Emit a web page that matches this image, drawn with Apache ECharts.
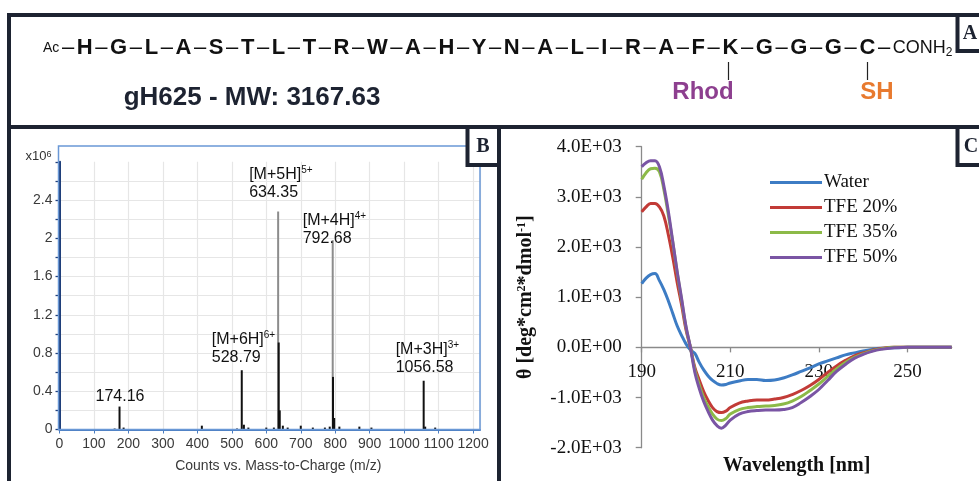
<!DOCTYPE html>
<html>
<head>
<meta charset="utf-8" />
<title>gH625 peptide</title>
<script src="https://cdn.jsdelivr.net/npm/echarts@6.0.0/dist/echarts.min.js"></script>
<style>
  html, body { margin: 0; padding: 0; background: #fff; }
  #chart { width: 979px; height: 481px; }
</style>
</head>
<body>
<div id="chart"></div>
<script>
// ---- panel A: sequence
const residues = ['H','G','L','A','S','T','L','T','R','W','A','H','Y','N','A','L','I','R','A','F','K','G','G','G','C'];

// ---- panel B: mass spectrum (counts x10^6)
const msMz =     [160, 174.16, 186, 413, 515, 528.79, 535, 548, 600, 622, 634.35, 636, 639, 648, 662, 700, 735, 770, 784, 792.68, 793.5, 797, 812, 870, 905, 1056.58, 1061, 1090];
const msCounts = [0.01, 0.24, 0.02, 0.04, 0.01, 0.62, 0.05, 0.02, 0.02, 0.02, 2.28, 0.91, 0.20, 0.04, 0.02, 0.04, 0.02, 0.02, 0.03, 1.98, 0.55, 0.12, 0.03, 0.03, 0.02, 0.51, 0.03, 0.02];
const peakMz =      [174.16, 528.79, 634.35, 792.68, 1056.58];
const peakIons =    ['', '[M+6H]', '[M+5H]', '[M+4H]', '[M+3H]'];
const peakCharges = ['', '6+', '5+', '4+', '3+'];

// ---- panel C: CD spectra
const wavelength = [190,191,192,193,194,195,196,197,198,199,200,201,202,203,204,205,206,207,208,209,210,212,214,216,218,220,222,224,226,228,230,232,234,236,238,240,242,244,247,250,255,260];
const water = [1270,1380,1450,1470,1330,1150,930,680,430,240,70,-50,-120,-300,-450,-570,-660,-720,-750,-740,-710,-670,-640,-640,-660,-650,-610,-550,-480,-410,-330,-270,-210,-150,-110,-70,-40,-20,-10,0,0,0];
const tfe20 = [2700,2800,2870,2870,2800,2620,2250,1800,1300,850,350,0,-400,-650,-880,-1060,-1200,-1280,-1300,-1270,-1200,-1110,-1070,-1050,-1050,-1030,-1000,-940,-860,-760,-640,-500,-370,-260,-170,-110,-60,-20,0,0,0,0];
const tfe35 = [3350,3480,3560,3570,3500,3150,2650,2100,1500,950,400,0,-450,-750,-1000,-1180,-1330,-1430,-1460,-1420,-1330,-1240,-1200,-1180,-1170,-1160,-1130,-1070,-980,-860,-730,-580,-430,-300,-200,-130,-70,-30,0,0,0,0];
const tfe50 = [3600,3680,3720,3720,3600,3220,2720,2120,1520,980,420,0,-500,-820,-1080,-1280,-1450,-1560,-1610,-1550,-1450,-1330,-1280,-1260,-1250,-1250,-1240,-1200,-1100,-980,-840,-660,-480,-340,-220,-140,-80,-40,-10,0,0,0];
const cdNames = ['Water', 'TFE 20%', 'TFE 35%', 'TFE 50%'];
const cdColors = ['#3d7cc4', '#c23b37', '#8cba48', '#7a55a4'];
const cdTicks = [190, 210, 230, 250];

// label placement for the annotated peaks (px, relative to the bar top)
const peakLabelPos = [[-23, -19], [-29, -40], [-28, -46], [-29, -29], [-27, -40]];

const chart = echarts.init(document.getElementById('chart'));

const sansFont = 'Liberation Sans, Arial, sans-serif';
const serifFont = 'Liberation Serif, Times New Roman, serif';
const ink = '#1d2331';

function excelSci(v) {
  if (v === 0) return '0.0E+00';
  const e = Math.floor(Math.log10(Math.abs(v)));
  const m = v / Math.pow(10, e);
  return m.toFixed(1) + 'E' + (e >= 0 ? '+' : '-') + String(Math.abs(e)).padStart(2, '0');
}

const msData = msMz.map((mz, i) => {
  const item = { value: [mz, msCounts[i]] };
  if (msCounts[i] > 1.5) item.itemStyle = { color: '#8c8c8c' };
  const li = peakMz.indexOf(mz);
  if (li >= 0) {
    const num = '{num|' + mz.toFixed(2) + '}';
    item.label = {
      show: true,
      position: peakLabelPos[li],
      align: 'left',
      verticalAlign: 'top',
      formatter: peakIons[li] ? '{ion|' + peakIons[li] + '}{sup|' + peakCharges[li] + '}\n' + num : num
    };
  }
  return item;
});

const cdSeries = [water, tfe20, tfe35, tfe50].map((vals, k) => ({
  name: cdNames[k],
  type: 'line',
  xAxisIndex: 1,
  yAxisIndex: 1,
  smooth: 0.4,
  symbol: 'none',
  lineStyle: { width: 3, color: cdColors[k] },
  itemStyle: { color: cdColors[k] },
  data: wavelength.map((w, i) => [w, vals[i]])
}));

const seqText = '{ac|Ac}' + residues.map(r => '{d|–}{b|' + r + '}').join('') + '{d|–}{e|CONH}{sub|2}';

const boxStyle = { fill: 'none', stroke: ink, lineWidth: 4 };
const labelBox = { fill: '#fff', stroke: ink, lineWidth: 4 };

// grid C geometry, the wavelength axis sits on the zero line
const cdTop = 146.7, cdBottom = 33.3, cdMin = -2000, cdMax = 4000;
const cdHeight = 481 - cdTop - cdBottom;
const zeroOffset = -cdHeight * (0 - cdMin) / (cdMax - cdMin);

const option = {
  backgroundColor: '#fff',
  animation: false,
  grid: [
    { left: 59.5, right: 499, top: 161.8, bottom: 51.5, outerBoundsMode: 'none', containLabel: false },
    { left: 641.7, right: 27.3, top: cdTop, bottom: cdBottom, outerBoundsMode: 'none', containLabel: false }
  ],
  legend: {
    data: cdNames,
    orient: 'vertical',
    left: 765,
    top: 167,
    icon: 'rect',
    itemWidth: 52,
    itemHeight: 3,
    itemGap: 4,
    textStyle: { fontFamily: serifFont, fontSize: 19, color: '#111', lineHeight: 21, padding: [0, 0, 0, -3] }
  },
  xAxis: [
    {
      gridIndex: 0, type: 'value', min: 0, max: 1220, interval: 100,
      name: 'Counts vs. Mass-to-Charge (m/z)', nameLocation: 'middle', nameGap: 30,
      nameTextStyle: { fontFamily: sansFont, fontSize: 14, color: '#3a3a3a', padding: [0, 0, 0, 17] },
      axisLine: { lineStyle: { color: '#4a7cc0', width: 2 } },
      axisTick: { show: true, length: 4, lineStyle: { color: '#4a7cc0' } },
      axisLabel: { showMaxLabel: false, fontFamily: sansFont, fontSize: 14, color: '#3a3a3a', margin: 8, formatter: v => String(v) },
      splitLine: { show: true, lineStyle: { color: '#e6e6e6', width: 1.2 } }
    },
    {
      gridIndex: 1, type: 'value', min: 190, max: 260, position: 'bottom', offset: zeroOffset,
      name: 'Wavelength [nm]', nameLocation: 'middle', nameGap: 108,
      nameTextStyle: { fontFamily: serifFont, fontSize: 20, fontWeight: 'bold', color: '#111' },
      axisLine: { onZero: false, lineStyle: { color: '#8a8a8a', width: 1.3 } },
      axisTick: { show: true, length: 5, customValues: cdTicks, lineStyle: { color: '#8a8a8a', width: 1.3 } },
      axisLabel: { customValues: cdTicks, fontFamily: serifFont, fontSize: 19, color: '#111', margin: 15 },
      splitLine: { show: false }
    }
  ],
  yAxis: [
    {
      gridIndex: 0, type: 'value', min: 0, max: 2.8, interval: 0.2,
      name: 'x10{s|6}', nameLocation: 'end', nameGap: 5,
      nameTextStyle: {
        fontFamily: sansFont, fontSize: 13, color: '#333', align: 'right', verticalAlign: 'middle',
        padding: [0, 8, 0, 0],
        rich: { s: { fontFamily: sansFont, fontSize: 9, color: '#333', verticalAlign: 'top', lineHeight: 9 } }
      },
      axisLine: { show: true, lineStyle: { color: '#1f3f7a', width: 2 } },
      axisTick: { show: true, length: 4, lineStyle: { color: '#1f3f7a', width: 1.3 } },
      axisLabel: {
        fontFamily: sansFont, fontSize: 14, color: '#3a3a3a', margin: 7,
        formatter: v => {
          const t = Math.round(v * 10);
          return (t % 4 === 0 && t <= 24) ? String(+v.toFixed(1)) : '';
        }
      },
      splitLine: {
        show: true,
        lineStyle: {
          width: 1.2,
          color: ['#e6e6e6', '#e6e6e6', '#e6e6e6', '#e6e6e6', '#e6e6e6', '#e6e6e6', '#e6e6e6', '#e6e6e6',
                  '#e6e6e6', '#e6e6e6', '#e6e6e6', '#e6e6e6', '#e6e6e6', '#e6e6e6', 'rgba(0,0,0,0)']
        }
      }
    },
    {
      gridIndex: 1, type: 'value', min: cdMin, max: cdMax, interval: 1000,
      name: 'θ [deg*cm{s|2}*dmol{s|-1}]', nameLocation: 'middle', nameGap: 106,
      nameTextStyle: {
        fontFamily: serifFont, fontSize: 20, fontWeight: 'bold', color: '#111',
        rich: { s: { fontFamily: serifFont, fontSize: 12, fontWeight: 'bold', color: '#111', verticalAlign: 'top', lineHeight: 12 } }
      },
      axisLine: { show: true, onZero: false, lineStyle: { color: '#8a8a8a', width: 1.3 } },
      axisTick: { show: true, length: 6, lineStyle: { color: '#8a8a8a', width: 1.3 } },
      axisLabel: { fontFamily: serifFont, fontSize: 19, color: '#111', margin: 20, formatter: excelSci },
      splitLine: { show: false }
    }
  ],
  series: [
    {
      name: 'Counts',
      type: 'bar',
      xAxisIndex: 0,
      yAxisIndex: 0,
      barWidth: 2,
      itemStyle: { color: '#111' },
      label: {
        fontFamily: sansFont, color: '#111',
        rich: {
          ion: { fontFamily: sansFont, fontSize: 16, color: '#111', lineHeight: 18 },
          sup: { fontFamily: sansFont, fontSize: 10, color: '#111', verticalAlign: 'top', lineHeight: 10 },
          num: { fontFamily: sansFont, fontSize: 16, color: '#111', lineHeight: 18 }
        }
      },
      data: msData
    },
    ...cdSeries
  ],
  graphic: [
    // panel frames
    { type: 'rect', z: 100, shape: { x: 9, y: 15, width: 990, height: 112 }, style: boxStyle },
    { type: 'rect', z: 100, shape: { x: 9, y: 127, width: 490, height: 380 }, style: boxStyle },
    { type: 'rect', z: 100, shape: { x: 499, y: 127, width: 500, height: 380 }, style: boxStyle },
    // spectrum frame
    { type: 'rect', z: 50, shape: { x: 58.5, y: 146, width: 421.5, height: 283.5 }, style: { fill: 'none', stroke: '#6a98d6', lineWidth: 1.5 } },
    // panel letters
    { type: 'rect', z: 101, shape: { x: 957.5, y: 15, width: 40, height: 36 }, style: labelBox },
    { type: 'text', z: 102, style: { x: 970, y: 34, text: 'A', font: 'bold 20px ' + serifFont, fill: ink, align: 'center', verticalAlign: 'middle' } },
    { type: 'rect', z: 101, shape: { x: 467.5, y: 127, width: 31.5, height: 38 }, style: labelBox },
    { type: 'text', z: 102, style: { x: 483, y: 147, text: 'B', font: 'bold 20px ' + serifFont, fill: ink, align: 'center', verticalAlign: 'middle' } },
    { type: 'rect', z: 101, shape: { x: 957.5, y: 127, width: 40, height: 38 }, style: labelBox },
    { type: 'text', z: 102, style: { x: 971, y: 147, text: 'C', font: 'bold 20px ' + serifFont, fill: ink, align: 'center', verticalAlign: 'middle' } },
    // panel A texts
    {
      type: 'text', z: 102,
      style: {
        x: 43, y: 48, text: seqText, align: 'left', verticalAlign: 'middle',
        rich: {
          ac: { fontFamily: sansFont, fontSize: 14, fill: '#111', color: '#111' },
          d: { fontFamily: sansFont, fontSize: 22, fill: '#111', color: '#111', padding: [0, 2.6] },
          b: { fontFamily: sansFont, fontSize: 22, fontWeight: 'bold', fill: '#111', color: '#111' },
          e: { fontFamily: sansFont, fontSize: 18, fill: '#111', color: '#111' },
          sub: { fontFamily: sansFont, fontSize: 12, fill: '#111', color: '#111', verticalAlign: 'bottom', lineHeight: 12 }
        }
      }
    },
    { type: 'line', z: 102, shape: { x1: 728.5, y1: 62, x2: 728.5, y2: 80 }, style: { stroke: '#222', lineWidth: 1.2 } },
    { type: 'line', z: 102, shape: { x1: 867.5, y1: 62, x2: 867.5, y2: 80 }, style: { stroke: '#222', lineWidth: 1.2 } },
    { type: 'text', z: 102, style: { x: 703, y: 92, text: 'Rhod', font: 'bold 24px ' + sansFont, fill: '#8d3f8f', align: 'center', verticalAlign: 'middle' } },
    { type: 'text', z: 102, style: { x: 877, y: 92, text: 'SH', font: 'bold 24px ' + sansFont, fill: '#e87a2f', align: 'center', verticalAlign: 'middle' } },
    { type: 'text', z: 102, style: { x: 252, y: 98, text: 'gH625 - MW: 3167.63', font: 'bold 26px ' + sansFont, fill: ink, align: 'center', verticalAlign: 'middle' } }
  ]
};

chart.setOption(option);
window.onresize = () => chart.resize();
</script>
</body>
</html>
